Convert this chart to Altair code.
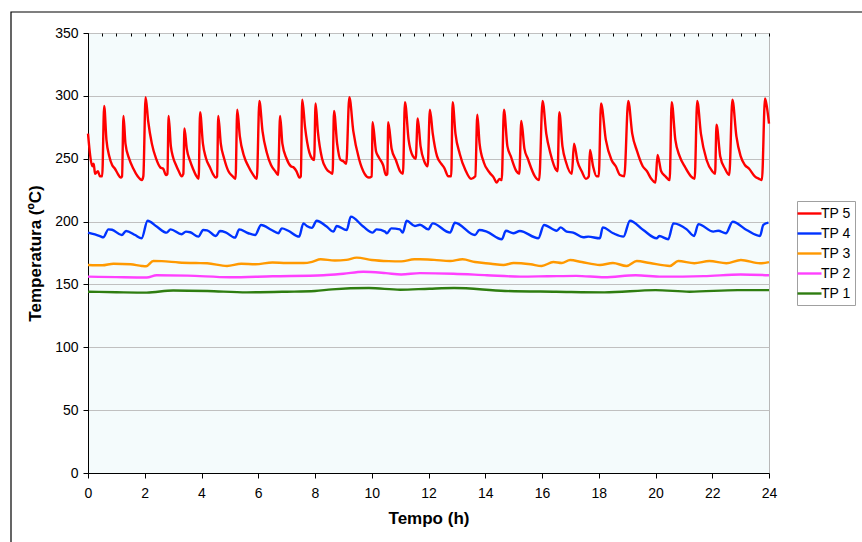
import altair as alt
import pandas as pd

# ---- data ----
t5 = [0.00, 0.08, 0.15, 0.20, 0.25, 0.35, 0.42, 0.50, 0.57, 0.65, 0.75, 0.85, 0.95, 1.05, 1.15, 1.20,
      1.25, 1.32, 1.45, 1.60, 1.75, 1.90, 1.95, 2.03, 2.12, 2.25, 2.40, 2.55, 2.65, 2.75, 2.80,
      2.84, 2.92, 3.00, 3.10, 3.20, 3.30, 3.36, 3.40, 3.48, 3.60, 3.70, 3.80, 3.90, 3.95, 4.05,
      4.15, 4.30, 4.40, 4.50, 4.55, 4.59, 4.68, 4.80, 4.95, 5.10, 5.20, 5.26, 5.35, 5.50, 5.65,
      5.80, 5.95, 6.04, 6.15, 6.30, 6.45, 6.60, 6.70, 6.77, 6.85, 7.00, 7.15, 7.25, 7.35, 7.45,
      7.50, 7.55, 7.65, 7.80, 7.90, 7.97, 8.02, 8.10, 8.25, 8.40, 8.55, 8.62, 8.67, 8.78, 8.90,
      9.00, 9.10, 9.21, 9.35, 9.55, 9.75, 9.90, 10.00, 10.03, 10.15, 10.25, 10.40, 10.50, 10.55,
      10.58, 10.70, 10.85, 11.00, 11.10, 11.17, 11.30, 11.45, 11.55, 11.62, 11.72, 11.85, 11.97,
      12.05, 12.15, 12.30, 12.45, 12.55, 12.70, 12.80, 12.85, 12.95, 13.10, 13.30, 13.50, 13.65,
      13.72, 13.80, 13.95, 14.15, 14.30, 14.40, 14.50, 14.58, 14.66, 14.78, 14.90, 15.10, 15.20,
      15.27, 15.38, 15.50, 15.75, 15.90, 16.02, 16.15, 16.30, 16.50, 16.55, 16.61, 16.72, 16.85,
      17.05, 17.13, 17.25, 17.40, 17.55, 17.65, 17.69, 17.80, 17.92, 18.00, 18.08, 18.25, 18.45,
      18.60, 18.75, 18.90, 19.04, 19.18, 19.35, 19.55, 19.70, 19.85, 20.00, 20.07, 20.20, 20.35,
      20.50, 20.57, 20.70, 20.85, 21.05, 21.25, 21.38, 21.47, 21.60, 21.80, 22.00, 22.10, 22.15,
      22.28, 22.45, 22.60, 22.71, 22.85, 23.00, 23.15, 23.30, 23.50, 23.65, 23.75, 23.86, 23.92, 24.00]
v5 = [270, 252, 244, 246, 238, 240, 236, 236, 292, 265, 252, 245, 242, 238, 235, 236,
      284, 262, 250, 242, 236, 233, 236, 299, 280, 262, 250, 243, 242, 237, 238,
      284, 260, 251, 245, 240, 236, 238, 274, 258, 248, 242, 237, 234, 287, 262,
      251, 243, 238, 235, 236, 284, 262, 250, 240, 236, 234, 289, 268, 252, 244,
      238, 234, 296, 272, 255, 245, 240, 237, 284, 262, 250, 244, 243, 240, 235,
      236, 297, 275, 255, 250, 249, 294, 272, 250, 242, 239, 238, 288, 262, 249,
      248, 246, 299, 272, 250, 238, 235, 236, 279, 256, 251, 245, 237, 238,
      279, 258, 249, 240, 238, 295, 265, 252, 250, 282, 260, 248, 244,
      289, 270, 252, 246, 243, 236, 236, 295, 270, 254, 241, 234, 236,
      285, 262, 247, 239, 235, 231, 234, 233, 289, 260, 252, 240, 238,
      280, 258, 250, 236, 233, 296, 270, 254, 241, 240, 287, 260, 247,
      238, 262, 248, 240, 234, 236, 257, 244, 236, 236, 294, 265, 249,
      244, 237, 236, 296, 270, 256, 244, 240, 234, 231, 253, 240, 236,
      233, 295, 265, 252, 243, 236, 234, 296, 270, 249, 240, 238, 277,
      252, 242, 237, 297, 268, 252, 245, 242, 236, 234, 233, 298, 292, 278]

t4 = [0.00, 0.42, 0.54, 0.72, 0.85, 1.19, 1.34, 1.66, 1.89, 2.10, 2.42, 2.77, 2.91, 3.30, 3.45,
      3.60, 3.89, 4.06, 4.20, 4.51, 4.65, 4.85, 5.18, 5.33, 5.65, 5.89, 6.10, 6.47, 6.71, 6.83,
      7.06, 7.44, 7.59, 7.71, 7.89, 8.06, 8.41, 8.65, 8.76, 9.12, 9.26, 9.70, 10.03, 10.17,
      10.47, 10.53, 10.69, 10.99, 11.09, 11.23, 11.52, 11.70, 11.99, 12.15, 12.76, 12.93, 13.64,
      13.79, 14.05, 14.58, 14.73, 14.99, 15.22, 15.87, 16.07, 16.52, 16.66, 16.87, 17.10, 17.45,
      17.63, 18.04, 18.14, 18.51, 18.87, 19.10, 19.57, 20.04, 20.13, 20.45, 20.63, 21.10, 21.36,
      21.51, 22.04, 22.21, 22.48, 22.72, 23.21, 23.68, 23.80, 23.98]
v4 = [191.2, 188.5, 187.5, 193.8, 193.5, 189.3, 192.5, 189.3, 186.7, 200.7, 196.0, 191.2, 193.8, 189.9, 192.0,
      191.5, 188.0, 193.3, 193.0, 188.5, 192.5, 191.5, 187.2, 193.8, 190.7, 189.3, 197.3, 193.3, 190.7, 194.6,
      192.7, 188.0, 198.6, 196.5, 195.0, 200.7, 196.0, 192.0, 196.5, 193.3, 203.9, 196.0, 191.2, 193.8,
      192.0, 190.7, 194.6, 193.8, 191.2, 200.7, 196.5, 197.5, 193.8, 198.6, 191.2, 199.1, 189.3,
      193.3, 192.0, 185.9, 192.7, 190.7, 192.5, 186.7, 197.3, 192.7, 195.4, 192.0, 191.2, 187.5,
      188.0, 186.7, 195.4, 190.7, 188.0, 200.7, 193.3, 186.7, 188.5, 185.9, 198.6, 193.8, 188.5,
      198.0, 192.0, 192.7, 190.7, 199.9, 193.3, 188.5, 197.3, 199.1]

t3 = [0.0, 0.5, 0.9, 1.5, 1.9, 2.05, 2.3, 2.6, 3.2, 3.8, 4.2, 4.9, 5.4, 5.9, 6.5, 7.0, 7.6, 7.9,
      8.2, 8.7, 9.1, 9.47, 10.0, 10.6, 11.04, 11.5, 11.7, 12.2, 12.76, 13.2, 13.64, 14.2, 14.64,
      15.0, 15.6, 15.99, 16.4, 16.7, 16.99, 17.4, 18.04, 18.5, 18.98, 19.34, 19.8, 20.51, 20.8,
      21.37, 21.9, 22.5, 23.01, 23.68, 24.0]
v3 = [165.5, 165.2, 166.5, 166.0, 164.7, 164.5, 168.6, 168.5, 167.5, 167.0, 166.8, 164.7, 166.5, 166.0,
      167.5, 167.0, 167.0, 168.0, 170.0, 169.0, 169.5, 171.3, 169.4, 168.5, 168.3, 170.0, 170.0, 169.5,
      168.6, 170.0, 167.8, 166.5, 165.5, 167.0, 166.0, 164.7, 167.8, 167.0, 169.4, 167.8, 165.5, 167.0,
      164.7, 168.6, 167.0, 164.7, 168.6, 166.8, 168.6, 166.8, 169.4, 166.8, 167.8]

t2 = [0.0, 1.0, 2.07, 2.42, 3.5, 5.0, 6.5, 8.3, 9.0, 9.7, 10.5, 11.04, 11.7, 12.88, 14.06, 15.24,
      16.2, 17.2, 18.2, 19.3, 20.22, 21.7, 23.0, 24.0]
v2 = [156.2, 155.8, 155.5, 157.3, 157.0, 155.7, 156.5, 157.3, 158.5, 160.1, 159.0, 157.9, 159.0, 158.5,
      157.3, 156.2, 156.5, 156.8, 155.7, 157.3, 156.2, 156.6, 157.9, 157.3]

t1 = [0.0, 1.0, 2.07, 3.0, 4.2, 5.6, 7.0, 8.0, 8.6, 9.9, 11.0, 12.03, 12.9, 14.7, 16.5, 18.2, 20.0,
      21.2, 22.9, 24.0]
v1 = [144.2, 143.8, 143.5, 145.2, 144.8, 143.7, 144.2, 144.8, 146.1, 147.1, 145.8, 146.6, 147.1, 144.8,
      144.2, 143.7, 145.5, 144.2, 145.5, 145.5]

series_names = ["TP 5", "TP 4", "TP 3", "TP 2", "TP 1"]
series_colors = ["#FF0000", "#0033FF", "#FF9900", "#FF40FF", "#2E7D10"]
x_major = [0, 2, 4, 6, 8, 10, 12, 14, 16, 18, 20, 22, 24]
x_minor = [i / 2 for i in range(49)]
y_ticks = [0, 50, 100, 150, 200, 250, 300, 350]

rows = []
for name, ts, vs in [("TP 5", t5, v5), ("TP 4", t4, v4), ("TP 3", t3, v3),
                     ("TP 2", t2, v2), ("TP 1", t1, v1)]:
    for t, v in zip(ts, vs):
        rows.append({"serie": name, "t": t, "v": v})
df = pd.DataFrame(rows)

FONT = "Liberation Sans"
W, H = 681, 440

xscale = alt.Scale(domain=[0, 24], nice=False)
yscale = alt.Scale(domain=[0, 350], nice=False)

lines = alt.Chart(df).mark_line(strokeWidth=2.4, interpolate="monotone").encode(
    x=alt.X("t:Q", scale=xscale,
            axis=alt.Axis(values=x_major, format="d", tickSize=5, tickColor="black",
                          domainColor="black", labelFontSize=14, labelPadding=8,
                          labelColor="black", title="Tempo (h)", titleFontSize=17,
                          titleFontWeight="bold", titleColor="black", titlePadding=10,
                          grid=False, labelFlush=False)),
    y=alt.Y("v:Q", scale=yscale,
            axis=alt.Axis(values=y_ticks, tickSize=5, tickColor="black", domainColor="black",
                          labelFontSize=14, labelPadding=5, labelColor="black",
                          title="Temperatura (ºC)", titleFontSize=17, titleFontWeight="bold",
                          titleColor="black", titlePadding=10, grid=True,
                          gridColor="#C0C0C0")),
    color=alt.Color("serie:N",
                    scale=alt.Scale(domain=series_names, range=series_colors),
                    sort=series_names,
                    legend=alt.Legend(title=None, orient="none", legendX=709, legendY=168,
                                      symbolType="M-1.7143,0H1.7143", symbolSize=196,
                                      symbolStrokeWidth=2.4, labelFontSize=14, labelColor="black",
                                      rowPadding=4, padding=4, labelOffset=3,
                                      strokeColor="#A0A0A0", fillColor="white")),
    order=alt.Order("t:Q"),
)

minor = alt.Chart(pd.DataFrame({"t": x_minor})).mark_point(opacity=0).encode(
    x=alt.X("t:Q", scale=xscale,
            axis=alt.Axis(values=x_minor, tickSize=3, tickColor="black", offset=-3,
                          labels=False, domain=False, title=None, grid=False)),
)

frame = alt.Chart(pd.DataFrame({"a": [0]})).mark_rect(
    filled=False, stroke="black", strokeWidth=1.2
).encode(
    x=alt.value(-77), x2=alt.value(820), y=alt.value(-21), y2=alt.value(560)
)

chart = alt.layer(frame, lines, minor).resolve_axis(x="independent").properties(
    width=W, height=H,
    autosize=alt.AutoSizeParams(type="none"),
    padding={"left": 88, "top": 33, "right": 93, "bottom": 69},
    background="white",
).configure(font=FONT).configure_view(
    fill="#F4FBFC", stroke="#B8B8B8", strokeWidth=1
)

chart.save("out.html", embed_options={"renderer": "svg", "actions": False})
